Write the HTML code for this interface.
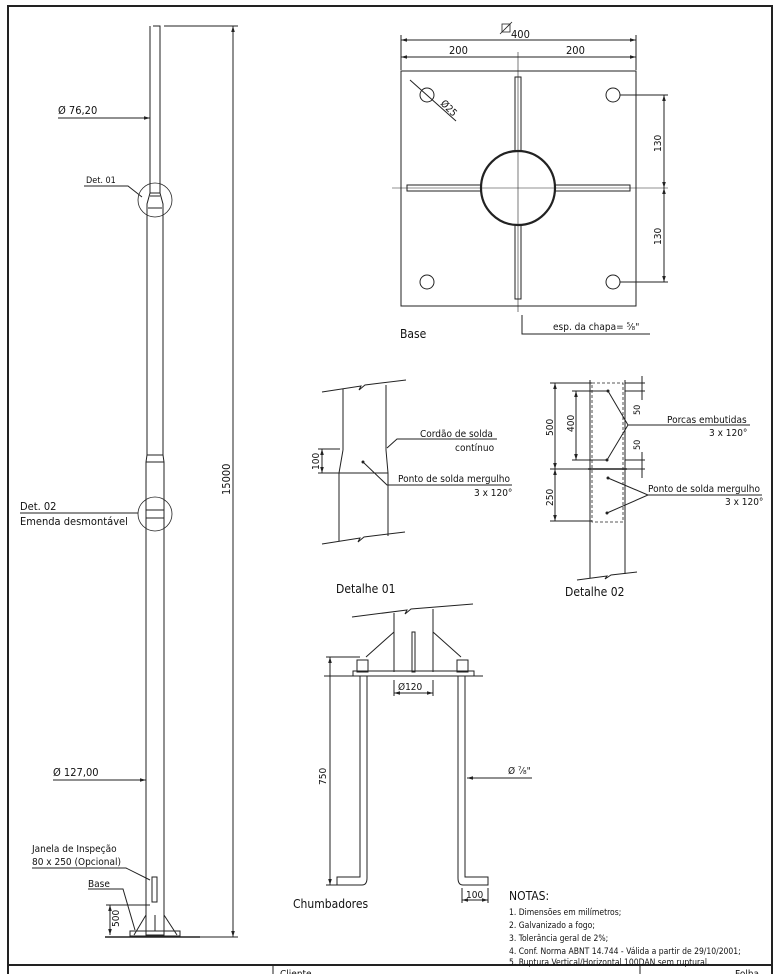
<!DOCTYPE html>
<html><head><meta charset="utf-8"><style>
html,body{margin:0;padding:0;background:#fff;}
svg{display:block;}
text{font-family:"DejaVu Sans Condensed","Liberation Sans",sans-serif;fill:#111;}
</style></head><body>
<svg width="780" height="974" viewBox="0 0 780 974" xmlns="http://www.w3.org/2000/svg">
<defs>
<marker id="a" viewBox="0 0 10 10" refX="10" refY="5" markerWidth="6" markerHeight="6" orient="auto-start-reverse"><path d="M0,2 L10,5 L0,8z" fill="#222"/></marker>
</defs>
<g fill="none" stroke="#222" stroke-width="1">
<rect x="8" y="6" width="764" height="980" stroke-width="2"/>
<line x1="8" y1="965" x2="772" y2="965" stroke-width="2"/>
<line x1="273" y1="965" x2="273" y2="974"/>
<line x1="640" y1="965" x2="640" y2="974"/>

<path d="M153,26 H160 V193 L163,204 V455 L164,462 V935 H146 V462 L147,455 V204 L150,193 V26"/>
<line x1="150" y1="193" x2="160" y2="193"/>
<line x1="150" y1="196" x2="160" y2="196"/>
<line x1="148" y1="208" x2="162" y2="208"/>
<line x1="147" y1="455" x2="163" y2="455"/>
<line x1="146" y1="462" x2="164" y2="462"/>
<line x1="146" y1="510" x2="164" y2="510"/>
<line x1="146" y1="518" x2="164" y2="518"/>
<circle cx="155" cy="200" r="17" stroke-width="0.8"/>
<circle cx="155" cy="514" r="17" stroke-width="0.8"/>
<path d="M134,935 L146,915 M164,915 L177,935"/>
<rect x="130" y="931" width="50" height="5"/>
<line x1="155" y1="915" x2="155" y2="931"/>
<line x1="105" y1="937" x2="200" y2="937" stroke-width="1.5"/>
<rect x="152" y="877" width="5" height="25"/>
<line x1="164" y1="26" x2="238" y2="26"/>
<line x1="233" y1="26" x2="233" y2="937" marker-start="url(#a)" marker-end="url(#a)"/>
<line x1="200" y1="937" x2="238" y2="937"/>
<line x1="58" y1="118" x2="150" y2="118" marker-end="url(#a)"/>
<polyline points="84,186 128,186 142,197"/>
<line x1="20" y1="513" x2="138" y2="513"/>
<line x1="53" y1="780" x2="146" y2="780" marker-end="url(#a)"/>
<polyline points="32,868 126,868 150,880"/>
<polyline points="88,889 123,889 135,930"/>
<line x1="106" y1="905" x2="150" y2="905"/>
<line x1="110" y1="905" x2="110" y2="935" marker-start="url(#a)" marker-end="url(#a)"/>

<rect x="401" y="71" width="235" height="235"/>
<circle cx="518" cy="188" r="37" stroke-width="2.2"/>
<rect x="515" y="77" width="6" height="74"/>
<rect x="515" y="225" width="6" height="74"/>
<rect x="407" y="185" width="74" height="6"/>
<rect x="555" y="185" width="75" height="6"/>
<line x1="392" y1="188" x2="668" y2="188" stroke-width="0.6"/>
<line x1="518" y1="52" x2="518" y2="312" stroke-width="0.6"/>
<circle cx="427" cy="95" r="7"/><circle cx="613" cy="95" r="7"/>
<circle cx="427" cy="282" r="7"/><circle cx="613" cy="282" r="7"/>
<line x1="410" y1="80" x2="456" y2="121"/>
<line x1="401" y1="35" x2="401" y2="70"/><line x1="636" y1="35" x2="636" y2="70"/>
<line x1="401" y1="40" x2="636" y2="40" marker-start="url(#a)" marker-end="url(#a)"/>
<line x1="401" y1="57" x2="636" y2="57" marker-start="url(#a)" marker-end="url(#a)"/>
<rect x="502" y="24" width="8" height="8" stroke-width="0.8"/><line x1="500" y1="34" x2="512" y2="22" stroke-width="0.8"/>
<line x1="620" y1="95" x2="668" y2="95"/><line x1="620" y1="282" x2="668" y2="282"/>
<line x1="664" y1="95" x2="664" y2="188" marker-start="url(#a)" marker-end="url(#a)"/>
<line x1="664" y1="188" x2="664" y2="282" marker-start="url(#a)" marker-end="url(#a)"/>
<polyline points="522,315 522,334 650,334"/>

<polyline points="322,392 361,386 359,390 365,385 406,380"/>
<polyline points="322,544 360,538 358,542 364,537 405,532"/>
<line x1="343" y1="389" x2="343" y2="450"/>
<line x1="386" y1="385" x2="386" y2="450"/>
<path d="M343,450 L339,473 M386,450 L388,473"/>
<line x1="339" y1="473" x2="339" y2="541"/>
<line x1="388" y1="473" x2="388" y2="536"/>
<line x1="339" y1="473" x2="388" y2="473"/>
<line x1="318" y1="449" x2="340" y2="449"/><line x1="318" y1="473" x2="340" y2="473"/>
<line x1="322" y1="449" x2="322" y2="473" marker-start="url(#a)" marker-end="url(#a)"/>
<polyline points="497,439 397,439 387,448"/>
<polyline points="363,462 387,485 512,485"/>

<line x1="590" y1="380" x2="590" y2="578"/>
<line x1="625" y1="380" x2="625" y2="574"/>
<polyline points="577,580 607,576 605,579 611,575 637,572"/>
<rect x="592" y="383" width="31" height="139" stroke-dasharray="3,2" stroke-width="0.8"/>
<line x1="588" y1="469" x2="627" y2="469" stroke-width="1.5"/>
<line x1="550" y1="383" x2="592" y2="383"/><line x1="550" y1="469" x2="590" y2="469"/><line x1="550" y1="521" x2="592" y2="521"/>
<line x1="555" y1="383" x2="555" y2="469" marker-start="url(#a)" marker-end="url(#a)"/>
<line x1="555" y1="469" x2="555" y2="521" marker-start="url(#a)" marker-end="url(#a)"/>
<line x1="572" y1="391" x2="608" y2="391"/><line x1="572" y1="460" x2="608" y2="460"/>
<line x1="576" y1="391" x2="576" y2="460" marker-start="url(#a)" marker-end="url(#a)"/>
<line x1="625" y1="383" x2="645" y2="383"/><line x1="625" y1="391" x2="645" y2="391"/><line x1="625" y1="460" x2="645" y2="460"/><line x1="625" y1="469" x2="645" y2="469"/>
<line x1="642" y1="376" x2="642" y2="400"/><line x1="642" y1="452" x2="642" y2="478"/>
<polyline points="608,391 628,425 607,460"/>
<line x1="628" y1="425" x2="750" y2="425"/>
<polyline points="608,478 648,495 607,513"/>
<line x1="648" y1="495" x2="762" y2="495"/>

<polyline points="352,617 407,610 405,614 411,609 473,604"/>
<line x1="394" y1="613" x2="394" y2="672"/><line x1="433" y1="609" x2="433" y2="672"/>
<rect x="412" y="632" width="3" height="40"/>
<path d="M366,657 L394,632 M433,632 L461,657"/>
<rect x="353" y="671" width="121" height="5"/>
<line x1="324" y1="676" x2="483" y2="676"/>
<rect x="357" y="660" width="11" height="12"/><rect x="457" y="660" width="11" height="12"/>
<path d="M360,676 V877 H337 V885 H362 Q367,885 367,878 V676"/>
<path d="M465,676 V877 H488 V885 H463 Q458,885 458,878 V676"/>
<line x1="326" y1="657" x2="360" y2="657"/><line x1="326" y1="885" x2="337" y2="885"/>
<line x1="330" y1="657" x2="330" y2="885" marker-start="url(#a)" marker-end="url(#a)"/>
<line x1="394" y1="680" x2="394" y2="696"/><line x1="433" y1="680" x2="433" y2="696"/>
<line x1="394" y1="693" x2="433" y2="693" marker-start="url(#a)" marker-end="url(#a)"/>
<line x1="532" y1="778" x2="467" y2="778" marker-end="url(#a)"/>
<line x1="462" y1="888" x2="462" y2="903"/><line x1="488" y1="888" x2="488" y2="903"/>
<line x1="462" y1="900" x2="488" y2="900" marker-start="url(#a)" marker-end="url(#a)"/>
</g>
<g fill="#222"><circle cx="363" cy="462" r="1.5"/><circle cx="608" cy="391" r="1.5"/><circle cx="607" cy="460" r="1.5"/><circle cx="608" cy="478" r="1.5"/><circle cx="607" cy="513" r="1.5"/></g>

<g font-size="11">
<text x="58" y="114">Ø 76,20</text>
<text x="86" y="183" font-size="9">Det. 01</text>
<text x="20" y="510">Det. 02</text>
<text x="20" y="525">Emenda desmontável</text>
<text x="53" y="776">Ø 127,00</text>
<text x="32" y="852" font-size="10">Janela de Inspeção</text>
<text x="32" y="865" font-size="10">80 x 250 (Opcional)</text>
<text x="88" y="887" font-size="10">Base</text>
<text transform="translate(119,927) rotate(-90)" font-size="10">500</text>
<text transform="translate(230,495) rotate(-90)" font-size="11">15000</text>
<text x="511" y="38">400</text>
<text x="449" y="54">200</text>
<text x="566" y="54">200</text>
<text transform="translate(440,104) rotate(45)" font-size="10">Ø25</text>
<text transform="translate(661,152) rotate(-90)" font-size="10">130</text>
<text transform="translate(661,245) rotate(-90)" font-size="10">130</text>
<text x="553" y="330" font-size="10">esp. da chapa= ⁵⁄₈"</text>
<text x="400" y="338" font-size="12">Base</text>
<text x="420" y="437" font-size="10">Cordão de solda</text>
<text x="455" y="451" font-size="10">contínuo</text>
<text transform="translate(319,470) rotate(-90)" font-size="10">100</text>
<text x="398" y="482" font-size="10">Ponto de solda mergulho</text>
<text x="474" y="496" font-size="10">3 x 120°</text>
<text x="336" y="593" font-size="12">Detalhe 01</text>
<text transform="translate(553,436) rotate(-90)" font-size="10">500</text>
<text transform="translate(574,432) rotate(-90)" font-size="10">400</text>
<text transform="translate(553,506) rotate(-90)" font-size="10">250</text>
<text transform="translate(640,415) rotate(-90)" font-size="9">50</text>
<text transform="translate(640,450) rotate(-90)" font-size="9">50</text>
<text x="667" y="423" font-size="10">Porcas embutidas</text>
<text x="709" y="436" font-size="10">3 x 120°</text>
<text x="648" y="492" font-size="10">Ponto de solda mergulho</text>
<text x="725" y="505" font-size="10">3 x 120°</text>
<text x="565" y="596" font-size="12">Detalhe 02</text>
<text x="398" y="690" font-size="10">Ø120</text>
<text transform="translate(326,785) rotate(-90)" font-size="10">750</text>
<text x="508" y="774" font-size="10">Ø ⁷⁄₈"</text>
<text x="466" y="898" font-size="10">100</text>
<text x="293" y="908" font-size="12">Chumbadores</text>
<text x="509" y="900" font-size="12">NOTAS:</text>
<g font-size="8.5">
<text x="509" y="915">1. Dimensões em milímetros;</text>
<text x="509" y="928">2. Galvanizado a fogo;</text>
<text x="509" y="941">3. Tolerância geral de 2%;</text>
<text x="509" y="954">4. Conf. Norma ABNT 14.744 - Válida a partir de 29/10/2001;</text>
<text x="509" y="965">5. Ruptura Vertical/Horizontal 100DAN sem ruptural.</text>
</g>
<text x="280" y="977" font-size="10">Cliente</text>
<text x="735" y="977" font-size="10">Folha</text>
</g>
</svg>
</body></html>
